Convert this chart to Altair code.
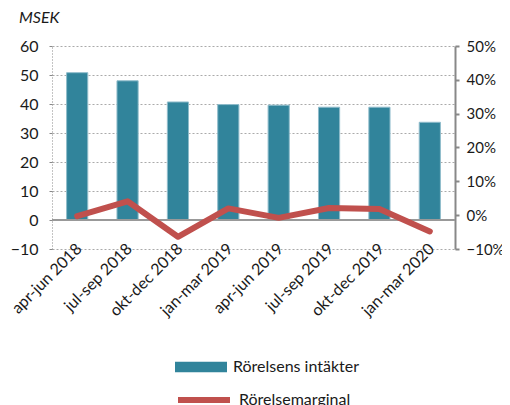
import altair as alt
import pandas as pd

periods = ["apr-jun 2018", "jul-sep 2018", "okt-dec 2018", "jan-mar 2019",
           "apr-jun 2019", "jul-sep 2019", "okt-dec 2019", "jan-mar 2020"]
intakter = [50.8, 48.0, 40.7, 39.8, 39.6, 38.9, 38.9, 33.7]
marginal = [-0.003, 0.041, -0.064, 0.020, -0.008, 0.021, 0.018, -0.048]
left_ticks = [-10, 0, 10, 20, 30, 40, 50, 60]
right_ticks = [-0.1, 0.0, 0.1, 0.2, 0.3, 0.4, 0.5]

df = pd.DataFrame({
    "period": periods,
    "intakter": intakter,
    "marginal": marginal,
    "s1": "Rörelsens intäkter",
    "s2": "Rörelsemarginal",
})
zero_df = pd.DataFrame({"z": [0]})

FONT = "Lato"
TXT = "#1a1a1a"
TEAL = "#31849B"
RED = "#C0504D"

x_enc = alt.X(
    "period:N", sort=periods, title=None,
    scale=alt.Scale(paddingInner=0.58, paddingOuter=0.29),
    axis=alt.Axis(labelAngle=-45, labelFontSize=16, labelFont=FONT, labelColor=TXT,
                  domain=False, ticks=False, labelAlign="right", labelBaseline="middle",
                  labelPadding=-3, labelOffset=2),
)

left_scale = alt.Scale(domain=[-10, 60], nice=False, zero=False)
left_axis = alt.Axis(values=left_ticks, orient="left", labelFontSize=16, labelFont=FONT,
                     labelColor=TXT, grid=True, gridDash=[2, 2], gridColor="#aaaaaa",
                     domainDash=[1, 2], domainColor="#888888", tickColor="#888888",
                     tickSize=3, labelPadding=11)

bars = alt.Chart(df).mark_bar(stroke="#8fbccb", strokeWidth=1).encode(
    x=x_enc,
    y=alt.Y("intakter:Q", title=None, scale=left_scale, axis=left_axis),
    fill=alt.Fill("s1:N", title=None, scale=alt.Scale(range=[TEAL]),
                  legend=alt.Legend(orient="none", legendX=123, legendY=295, title=None,
                                    labelFontSize=16, labelFont=FONT, labelColor=TXT,
                                    symbolType="M-1,-0.2H1V0.2H-1Z", symbolSize=2704,
                                    symbolStrokeWidth=0, labelOffset=6, padding=0)),
)

zero_rule = alt.Chart(zero_df).mark_rule(color="#999999", strokeWidth=2).encode(
    y=alt.Y("z:Q", title=None, scale=left_scale, axis=left_axis)
)

line = alt.Chart(df).mark_line(strokeWidth=6, strokeCap="round", strokeJoin="round").encode(
    x=x_enc,
    y=alt.Y("marginal:Q", title=None,
            scale=alt.Scale(domain=[-0.1, 0.5], nice=False, zero=False),
            axis=alt.Axis(values=right_ticks, orient="right", format=".0%", labelFontSize=15,
                          labelFont=FONT, labelColor=TXT, grid=False, domainColor="#888888",
                          domainWidth=2, tickColor="#888888", tickWidth=2, tickSize=4,
                          labelPadding=7)),
    stroke=alt.Stroke("s2:N", title=None, scale=alt.Scale(range=[RED]),
                      legend=alt.Legend(orient="none", legendX=123, legendY=325, title=None,
                                        labelFontSize=16, labelFont=FONT, labelColor=TXT,
                                        symbolType="stroke", symbolSize=2704,
                                        symbolStrokeWidth=6, labelOffset=6, padding=0)),
)

chart = alt.layer(alt.layer(bars, zero_rule), line).resolve_scale(
    y="independent"
).properties(
    width=403,
    height=203,
    autosize=alt.AutoSizeParams(type="none"),
    padding={"left": 44, "top": 38, "right": 47, "bottom": 156},
    title=alt.TitleParams("MSEK", anchor="start", frame="group", dx=-33, offset=12,
                          fontSize=16, fontStyle="italic", fontWeight="normal", font=FONT,
                          color=TXT),
).configure_view(stroke=None)

chart.save("out.html", embed_options={"renderer": "svg", "actions": False})
